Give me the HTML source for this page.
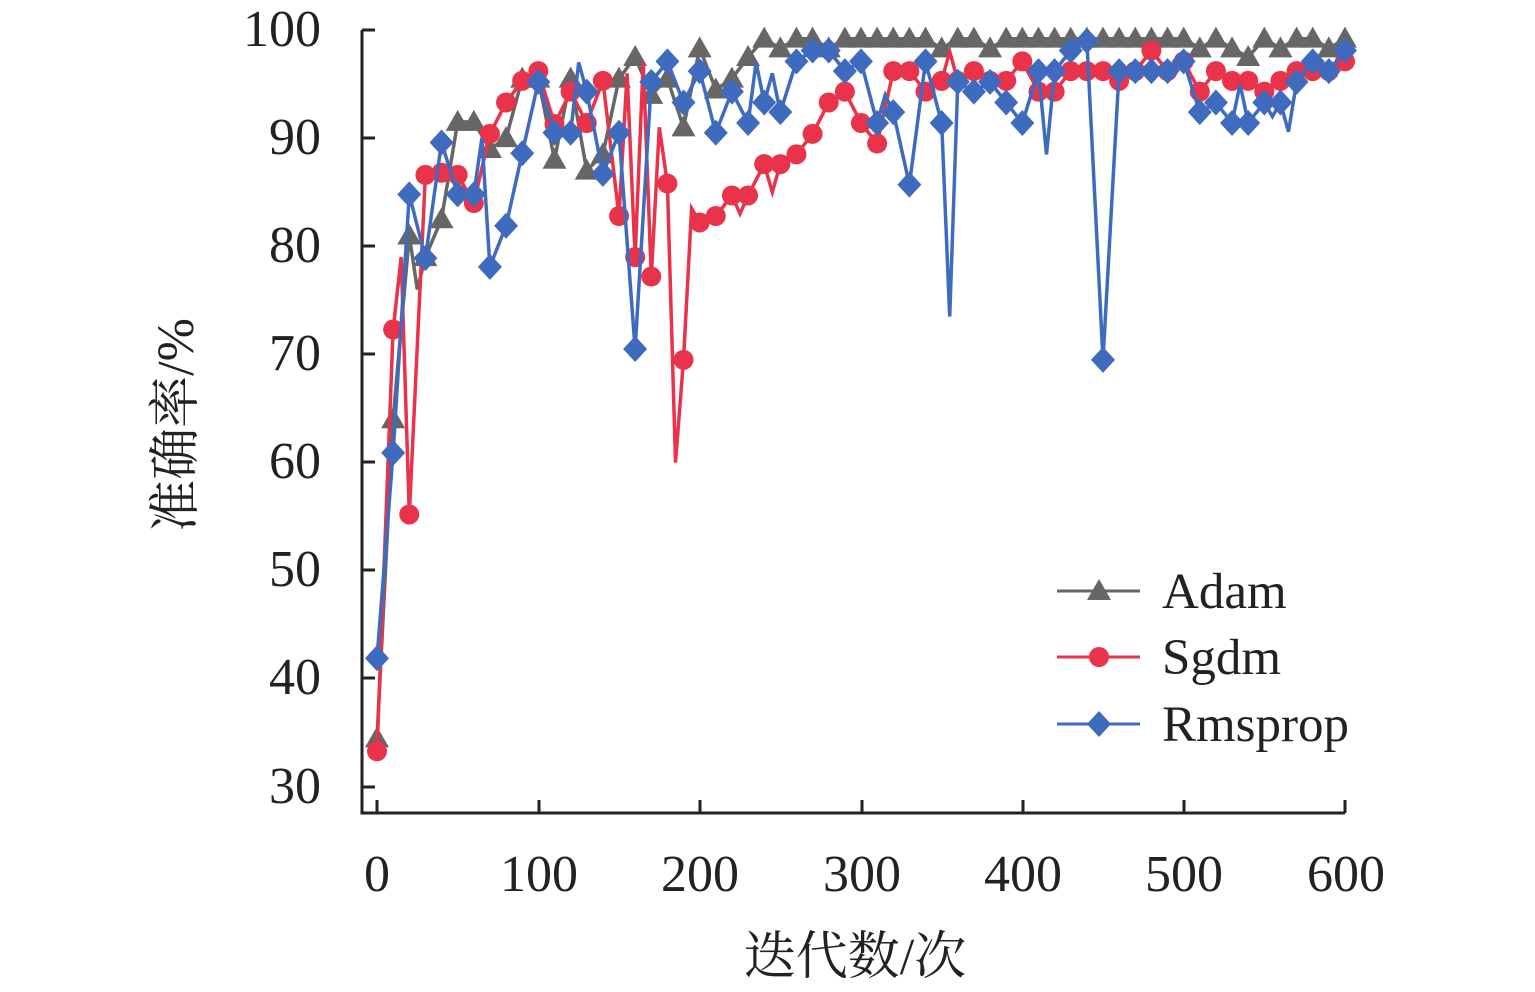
<!DOCTYPE html>
<html><head><meta charset="utf-8"><style>
body{margin:0;background:#fff;width:1535px;height:992px;overflow:hidden}
svg{display:block}
text{font-family:"Liberation Serif","Noto Serif CJK SC",serif;fill:#222}
</style></head><body>
<svg id="s" width="1535" height="992" xmlns="http://www.w3.org/2000/svg">
<g stroke="#222" stroke-width="3" fill="none">
<path d="M362,30 V813 H1345"/>
<path d="M362,30 H375 M362,138 H375 M362,246 H375 M362,354 H375 M362,462 H375 M362,570 H375 M362,678 H375 M362,787 H375"/>
<path d="M377,813 V800 M539,813 V800 M700,813 V800 M862,813 V800 M1023,813 V800 M1184,813 V800 M1345,813 V800"/>
</g>
<g font-size="52" text-anchor="end">
<text x="321" y="46">100</text><text x="321" y="154">90</text><text x="321" y="262">80</text><text x="321" y="370">70</text><text x="321" y="478">60</text><text x="321" y="586">50</text><text x="321" y="694">40</text><text x="321" y="803">30</text>
</g>
<g font-size="52" text-anchor="middle">
<text x="377" y="891">0</text><text x="539" y="891">100</text><text x="700" y="891">200</text><text x="862" y="891">300</text><text x="1023" y="891">400</text><text x="1184" y="891">500</text><text x="1346" y="891">600</text>
</g>
<text x="855" y="974" font-size="52" text-anchor="middle">迭代数/次</text>
<text transform="translate(193,425) rotate(-90)" font-size="52" text-anchor="middle">准确率/%</text>
<g id="plot"></g>
<g id="leg"></g>
<g font-size="51">
<text x="1162" y="608">Adam</text><text x="1162" y="674">Sgdm</text><text x="1162" y="741">Rmsprop</text>
</g>
</svg>
<script>
const X=v=>377+v*1.6133, Y=v=>30+(100-v)*10.814;
const A={0:34.5,10:64,20:81,25:76,30:79,40:82.5,50:91.5,60:91.5,70:89,80:90,90:95.5,100:95.5,110:88,120:95.5,130:87,140:88.5,150:95.5,160:97.5,170:94,180:95.5,190:91,200:98.3,210:94.5,220:95.5,230:97.5,240:99.2,250:98.3,260:99.2,270:99.2,280:98.3,290:99.2,300:99.2,310:99.2,320:99.2,330:99.2,340:99.2,350:98.3,360:99.2,370:99.2,380:98.3,390:99.2,400:99.2,410:99.2,420:99.2,430:99.2,440:99.2,450:99.2,460:99.2,470:99.2,480:99.2,490:99.2,500:99.2,510:98.3,520:99.2,530:98.3,540:97.5,550:99.2,560:98.3,570:99.2,580:99.2,590:98.3,600:99.2};
const S={0:33.3,10:72.3,15:79,20:55.2,30:86.6,40:86.8,50:86.6,60:84,70:90.4,80:93.3,90:95.3,100:96.2,110:91.3,120:94.3,130:91.4,140:95.3,150:82.8,155:96,160:79,165:97,170:77.2,175:91,180:85.8,185:60,190:69.5,195:83.5,200:82.2,210:82.8,220:84.7,225:83,230:84.7,240:87.6,245:85,250:87.6,260:88.5,270:90.4,280:93.3,290:94.3,300:91.4,310:89.5,320:96.2,330:96.2,340:94.3,350:95.3,355:98,360:95.3,370:96.2,380:95.3,390:95.3,400:97.1,410:94.3,420:94.3,430:96.2,440:96.2,450:96.2,460:95.3,470:96.2,480:98.1,490:96.2,500:97.1,510:94.3,520:96.2,530:95.3,540:95.3,550:94.3,560:95.3,570:96.2,580:96.2,590:96.2,600:97.1};
const R={0:41.9,10:60.9,20:84.8,30:78.9,40:89.6,50:84.8,60:84.8,65:90,70:78.1,80:81.9,90:88.6,100:95.2,110:90.5,120:90.5,125:97,130:94.3,140:86.7,150:90.5,160:70.5,170:95.2,180:97.1,190:93.3,200:96.2,210:90.5,220:94.3,230:91.4,235:97,240:93.3,245:96,250:92.4,260:97.1,270:98.1,280:98.1,290:96.2,300:97.1,310:91.4,315:94,320:92.4,330:85.7,340:97.1,350:91.4,355:73.5,360:95.2,370:94.3,380:95.2,390:93.3,400:91.4,410:96.2,415:88.5,420:96.2,430:98.1,440:99.0,450:69.5,460:96.2,470:96.2,480:96.2,490:96.2,500:97.1,510:92.4,520:93.3,530:91.4,535:95,540:91.4,550:93.3,555:92,560:93.3,565:90.6,570:95.2,580:97.1,590:96.2,600:98.1};
const ns="http://www.w3.org/2000/svg",g=document.getElementById('plot'),lg=document.getElementById('leg');
function el(p,t,a){const e=document.createElementNS(ns,t);for(const k in a)e.setAttribute(k,a[k]);p.appendChild(e);return e}
function mk(p,type,x,y,c){
 if(type==0)el(p,'path',{d:`M${x},${y-12}L${x+12},${y+9}L${x-12},${y+9}Z`,fill:c});
 else if(type==1)el(p,'circle',{cx:x,cy:y,r:10,fill:c});
 else el(p,'path',{d:`M${x},${y-13}L${x+12},${y}L${x},${y+13}L${x-12},${y}Z`,fill:c});
}
[[A,'#666666',0],[S,'#e8334a',1],[R,'#3f6bbf',2]].forEach(([d,c,t])=>{
 const ks=Object.keys(d).map(Number).sort((a,b)=>a-b);
 el(g,'polyline',{points:ks.map(k=>X(k).toFixed(1)+','+Y(d[k]).toFixed(1)).join(' '),fill:'none',stroke:c,'stroke-width':3.5,'stroke-linejoin':'miter'});
 ks.filter(k=>k%10==0).forEach(k=>mk(g,t,X(k),Y(d[k]),c));
 const ly=[591,657,724][t];
 el(lg,'line',{x1:1057,y1:ly,x2:1140,y2:ly,stroke:c,'stroke-width':3});
 mk(lg,t,1099,ly,c);
});
</script>
</body></html>
